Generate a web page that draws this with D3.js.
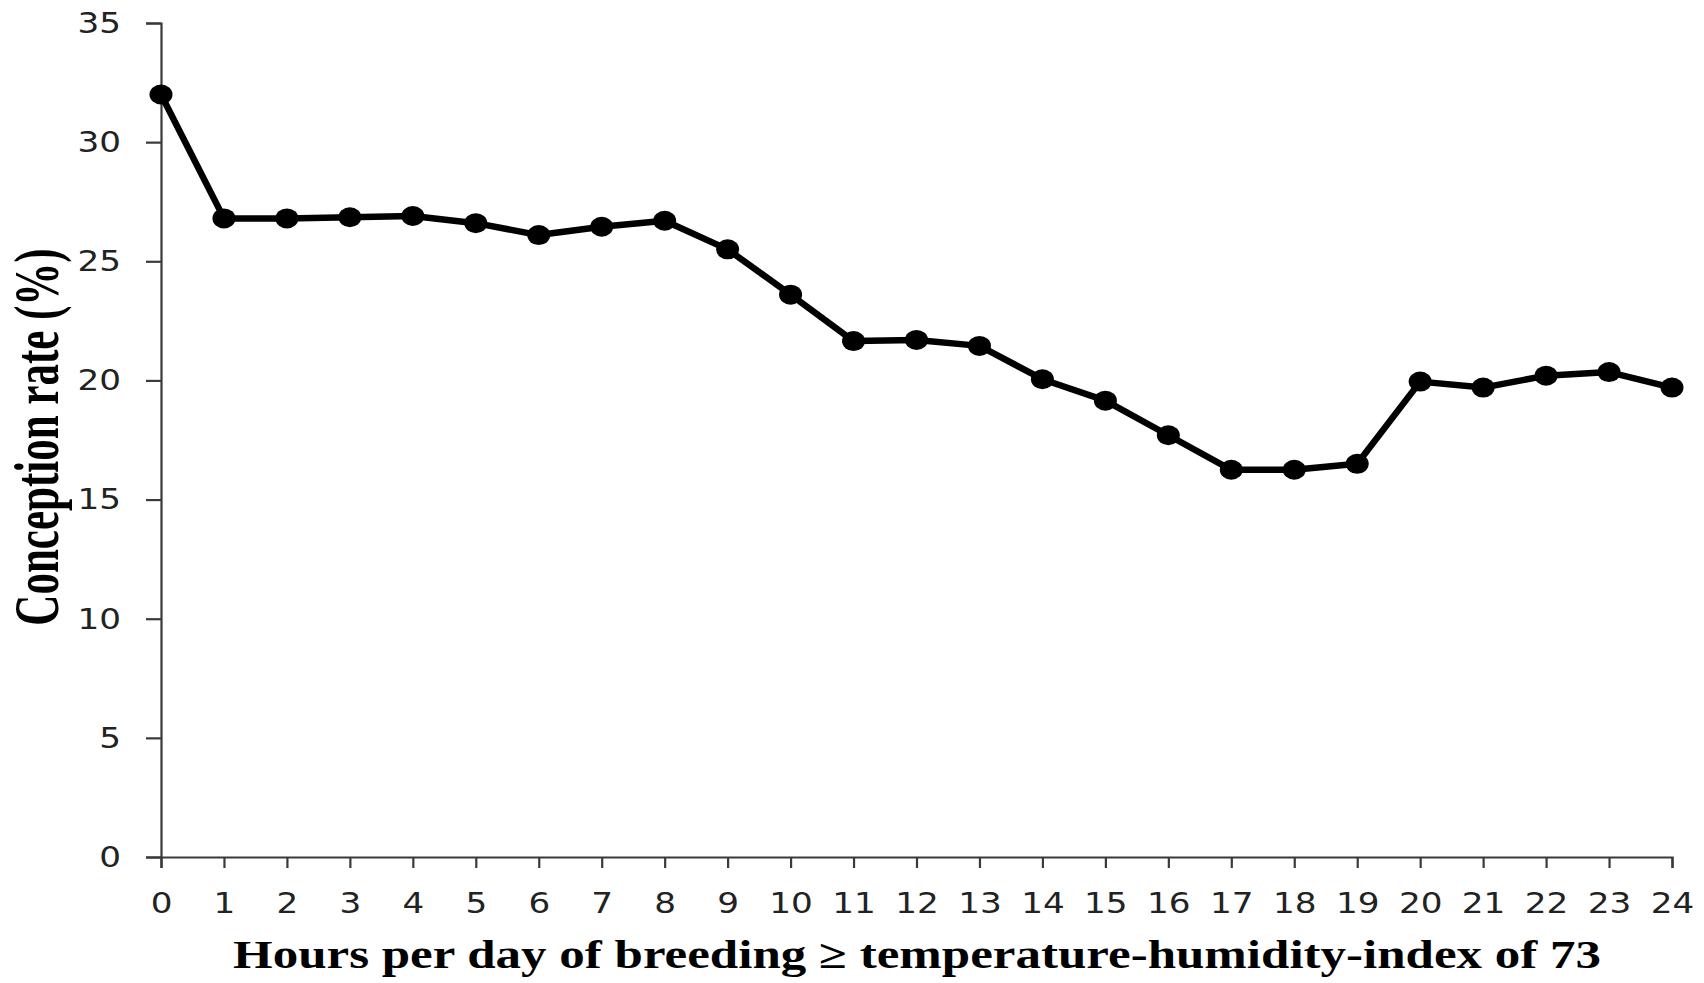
<!DOCTYPE html>
<html>
<head>
<meta charset="utf-8">
<script src="https://cdn.jsdelivr.net/npm/d3@7"></script>
<style>
  body { margin: 0; background: #fff; }
  .tick text { font-family: "DejaVu Sans", Verdana, sans-serif; fill: #222; }
</style>
</head>
<body>
<script>
// data
var hours = [0, 1, 2, 3, 4, 5, 6, 7, 8, 9, 10, 11, 12, 13, 14, 15, 16, 17, 18, 19, 20, 21, 22, 23, 24];
var conceptionRate = [32.0, 26.8, 26.8, 26.85, 26.9, 26.6, 26.1, 26.45, 26.7, 25.5, 23.6, 21.65, 21.7, 21.45, 20.05, 19.15, 17.7, 16.25, 16.25, 16.5, 19.95, 19.7, 20.2, 20.35, 19.7];
var yTicks = [0, 5, 10, 15, 20, 25, 30, 35];

var width = 1704, height = 983;
var margin = { left: 161, right: 32, top: 23, bottom: 126 };
var stretch = 1.45;   // the original figure is stretched sideways
var tickStretch = 1.18;

var svg = d3.select("body").append("svg")
  .attr("width", width)
  .attr("height", height);

var x = d3.scaleLinear()
  .domain([0, 24])
  .range([margin.left, width - margin.right]);

var y = d3.scaleLinear()
  .domain([0, 35])
  .range([height - margin.bottom, margin.top]);

// y axis
var yAxis = svg.append("g")
  .attr("transform", "translate(" + margin.left + ",0)")
  .call(d3.axisLeft(y).tickValues(yTicks).tickSizeInner(15).tickSizeOuter(15));

yAxis.selectAll(".tick text")
  .attr("x", -40 / tickStretch)
  .attr("transform", "scale(" + tickStretch + ",1)");

// x axis
var xAxis = svg.append("g")
  .attr("transform", "translate(0," + y(0) + ")")
  .call(d3.axisBottom(x).tickValues(hours).tickSizeInner(11).tickSizeOuter(11).tickPadding(24));

xAxis.selectAll(".tick text")
  .attr("transform", "scale(" + tickStretch + ",1)");

svg.selectAll(".domain, .tick line")
  .attr("stroke", "#3a3a3a")
  .attr("stroke-width", 2.2);

svg.selectAll(".tick text").attr("font-size", 29);

// line
var line = d3.line()
  .x(function(d, i) { return x(hours[i]); })
  .y(function(d) { return y(d); });

svg.append("path")
  .datum(conceptionRate)
  .attr("d", line)
  .attr("fill", "none")
  .attr("stroke", "#000")
  .attr("stroke-width", 6.5)
  .attr("stroke-linejoin", "round");

svg.selectAll(".dot")
  .data(conceptionRate)
  .enter()
  .append("ellipse")
  .attr("class", "dot")
  .attr("cx", function(d, i) { return x(hours[i]); })
  .attr("cy", function(d) { return y(d); })
  .attr("rx", 11.5)
  .attr("ry", 10)
  .attr("fill", "#000");

// axis titles
svg.append("text")
  .attr("transform", "translate(917,968) scale(1.275,1)")
  .attr("text-anchor", "middle")
  .attr("font-family", "Liberation Serif, Times New Roman, serif")
  .attr("font-weight", "bold")
  .attr("font-size", 40)
  .text("Hours per day of breeding \u2265 temperature-humidity-index of 73");

svg.append("text")
  .attr("transform", "translate(58,437) scale(" + stretch + ",1) rotate(-90)")
  .attr("text-anchor", "middle")
  .attr("font-family", "Liberation Serif, Times New Roman, serif")
  .attr("font-weight", "bold")
  .attr("font-size", 43)
  .text("Conception rate (%)");
</script>
</body>
</html>
